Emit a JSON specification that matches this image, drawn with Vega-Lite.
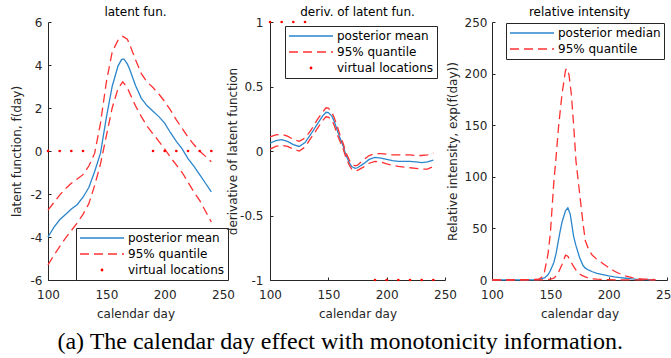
{
  "$schema": "https://vega.github.io/schema/vega-lite/v6.json",
  "padding": {"left": 10, "top": 6, "right": 0, "bottom": 0},
  "background": "white",
  "bounds": "flush",
  "spacing": 47,
  "title": {"text": "(a) The calendar day effect with monotonicity information.", "orient": "bottom", "font": "Liberation Serif", "fontSize": 24, "fontWeight": "normal", "color": "black", "anchor": "middle", "offset": 11, "dx": -4},
  "config": {
    "font": "DejaVu Sans",
    "view": {"stroke": null},
    "axis": {"grid": false, "labelFlush": false, "labelOverlap": false, "domainColor": "#262626", "domainWidth": 1, "tickColor": "#262626", "tickSize": -3, "labelColor": "#262626", "titleColor": "#262626", "labelFont": "DejaVu Sans", "titleFont": "DejaVu Sans", "labelFontSize": 12, "titleFontSize": 12, "titleFontWeight": "normal"},
    "legend": {"labelFont": "DejaVu Sans", "labelFontSize": 12, "labelColor": "black", "title": null, "orient": "none", "strokeColor": "#262626", "fillColor": "white", "padding": 3, "symbolSize": 1936, "symbolStrokeWidth": 1.3, "labelOffset": 3, "rowPadding": 2, "clipHeight": 14}
  },
  "datasets": {
    "p1": [
      {"day":100,"value":-4.0,"series":"posterior mean","line":"mean"},
      {"day":105,"value":-3.55,"series":"posterior mean","line":"mean"},
      {"day":110,"value":-3.2,"series":"posterior mean","line":"mean"},
      {"day":115,"value":-2.95,"series":"posterior mean","line":"mean"},
      {"day":120,"value":-2.7,"series":"posterior mean","line":"mean"},
      {"day":125,"value":-2.5,"series":"posterior mean","line":"mean"},
      {"day":130,"value":-2.15,"series":"posterior mean","line":"mean"},
      {"day":135,"value":-1.7,"series":"posterior mean","line":"mean"},
      {"day":140,"value":-0.95,"series":"posterior mean","line":"mean"},
      {"day":145,"value":-0.1,"series":"posterior mean","line":"mean"},
      {"day":150,"value":1.55,"series":"posterior mean","line":"mean"},
      {"day":155,"value":3.0,"series":"posterior mean","line":"mean"},
      {"day":160,"value":3.95,"series":"posterior mean","line":"mean"},
      {"day":163,"value":4.25,"series":"posterior mean","line":"mean"},
      {"day":165,"value":4.28,"series":"posterior mean","line":"mean"},
      {"day":168,"value":4.05,"series":"posterior mean","line":"mean"},
      {"day":170,"value":3.8,"series":"posterior mean","line":"mean"},
      {"day":175,"value":3.05,"series":"posterior mean","line":"mean"},
      {"day":180,"value":2.45,"series":"posterior mean","line":"mean"},
      {"day":185,"value":2.1,"series":"posterior mean","line":"mean"},
      {"day":190,"value":1.85,"series":"posterior mean","line":"mean"},
      {"day":195,"value":1.6,"series":"posterior mean","line":"mean"},
      {"day":200,"value":1.3,"series":"posterior mean","line":"mean"},
      {"day":205,"value":0.85,"series":"posterior mean","line":"mean"},
      {"day":210,"value":0.45,"series":"posterior mean","line":"mean"},
      {"day":215,"value":0.1,"series":"posterior mean","line":"mean"},
      {"day":220,"value":-0.35,"series":"posterior mean","line":"mean"},
      {"day":225,"value":-0.7,"series":"posterior mean","line":"mean"},
      {"day":230,"value":-1.1,"series":"posterior mean","line":"mean"},
      {"day":235,"value":-1.5,"series":"posterior mean","line":"mean"},
      {"day":240,"value":-1.9,"series":"posterior mean","line":"mean"}
    ],
    "q1": [
      {"day":100,"value":-2.75,"series":"95% quantile","line":"upper"},
      {"day":105,"value":-2.4,"series":"95% quantile","line":"upper"},
      {"day":110,"value":-2.05,"series":"95% quantile","line":"upper"},
      {"day":115,"value":-1.75,"series":"95% quantile","line":"upper"},
      {"day":120,"value":-1.5,"series":"95% quantile","line":"upper"},
      {"day":125,"value":-1.3,"series":"95% quantile","line":"upper"},
      {"day":130,"value":-1.1,"series":"95% quantile","line":"upper"},
      {"day":135,"value":-0.7,"series":"95% quantile","line":"upper"},
      {"day":140,"value":-0.1,"series":"95% quantile","line":"upper"},
      {"day":145,"value":1.3,"series":"95% quantile","line":"upper"},
      {"day":150,"value":3.2,"series":"95% quantile","line":"upper"},
      {"day":155,"value":4.6,"series":"95% quantile","line":"upper"},
      {"day":160,"value":5.15,"series":"95% quantile","line":"upper"},
      {"day":164,"value":5.33,"series":"95% quantile","line":"upper"},
      {"day":168,"value":5.2,"series":"95% quantile","line":"upper"},
      {"day":170,"value":4.95,"series":"95% quantile","line":"upper"},
      {"day":175,"value":4.25,"series":"95% quantile","line":"upper"},
      {"day":180,"value":3.6,"series":"95% quantile","line":"upper"},
      {"day":185,"value":3.2,"series":"95% quantile","line":"upper"},
      {"day":190,"value":2.95,"series":"95% quantile","line":"upper"},
      {"day":195,"value":2.65,"series":"95% quantile","line":"upper"},
      {"day":200,"value":2.3,"series":"95% quantile","line":"upper"},
      {"day":205,"value":1.9,"series":"95% quantile","line":"upper"},
      {"day":210,"value":1.45,"series":"95% quantile","line":"upper"},
      {"day":215,"value":1.05,"series":"95% quantile","line":"upper"},
      {"day":220,"value":0.65,"series":"95% quantile","line":"upper"},
      {"day":225,"value":0.3,"series":"95% quantile","line":"upper"},
      {"day":230,"value":0.0,"series":"95% quantile","line":"upper"},
      {"day":235,"value":-0.25,"series":"95% quantile","line":"upper"},
      {"day":240,"value":-0.5,"series":"95% quantile","line":"upper"},
      {"day":100,"value":-5.3,"series":"95% quantile","line":"lower"},
      {"day":105,"value":-4.85,"series":"95% quantile","line":"lower"},
      {"day":110,"value":-4.45,"series":"95% quantile","line":"lower"},
      {"day":115,"value":-4.05,"series":"95% quantile","line":"lower"},
      {"day":120,"value":-3.7,"series":"95% quantile","line":"lower"},
      {"day":125,"value":-3.35,"series":"95% quantile","line":"lower"},
      {"day":130,"value":-2.95,"series":"95% quantile","line":"lower"},
      {"day":135,"value":-2.45,"series":"95% quantile","line":"lower"},
      {"day":140,"value":-1.6,"series":"95% quantile","line":"lower"},
      {"day":145,"value":-0.6,"series":"95% quantile","line":"lower"},
      {"day":150,"value":0.7,"series":"95% quantile","line":"lower"},
      {"day":155,"value":2.0,"series":"95% quantile","line":"lower"},
      {"day":160,"value":2.9,"series":"95% quantile","line":"lower"},
      {"day":164,"value":3.22,"series":"95% quantile","line":"lower"},
      {"day":168,"value":2.95,"series":"95% quantile","line":"lower"},
      {"day":170,"value":2.7,"series":"95% quantile","line":"lower"},
      {"day":175,"value":2.1,"series":"95% quantile","line":"lower"},
      {"day":180,"value":1.6,"series":"95% quantile","line":"lower"},
      {"day":185,"value":1.15,"series":"95% quantile","line":"lower"},
      {"day":190,"value":0.8,"series":"95% quantile","line":"lower"},
      {"day":195,"value":0.45,"series":"95% quantile","line":"lower"},
      {"day":200,"value":0.1,"series":"95% quantile","line":"lower"},
      {"day":205,"value":-0.3,"series":"95% quantile","line":"lower"},
      {"day":210,"value":-0.65,"series":"95% quantile","line":"lower"},
      {"day":215,"value":-1.0,"series":"95% quantile","line":"lower"},
      {"day":220,"value":-1.45,"series":"95% quantile","line":"lower"},
      {"day":225,"value":-1.9,"series":"95% quantile","line":"lower"},
      {"day":230,"value":-2.3,"series":"95% quantile","line":"lower"},
      {"day":235,"value":-2.8,"series":"95% quantile","line":"lower"},
      {"day":240,"value":-3.3,"series":"95% quantile","line":"lower"}
    ],
    "v1": [
      {"day":100,"value":0,"series":"virtual locations"},
      {"day":110,"value":0,"series":"virtual locations"},
      {"day":120,"value":0,"series":"virtual locations"},
      {"day":130,"value":0,"series":"virtual locations"},
      {"day":190,"value":0,"series":"virtual locations"},
      {"day":200,"value":0,"series":"virtual locations"},
      {"day":210,"value":0,"series":"virtual locations"},
      {"day":220,"value":0,"series":"virtual locations"},
      {"day":230,"value":0,"series":"virtual locations"},
      {"day":240,"value":0,"series":"virtual locations"}
    ],
    "p2": [
      {"day":100,"value":0.06,"series":"posterior mean","line":"mean"},
      {"day":105,"value":0.08,"series":"posterior mean","line":"mean"},
      {"day":110,"value":0.088,"series":"posterior mean","line":"mean"},
      {"day":115,"value":0.075,"series":"posterior mean","line":"mean"},
      {"day":120,"value":0.05,"series":"posterior mean","line":"mean"},
      {"day":125,"value":0.035,"series":"posterior mean","line":"mean"},
      {"day":130,"value":0.065,"series":"posterior mean","line":"mean"},
      {"day":135,"value":0.13,"series":"posterior mean","line":"mean"},
      {"day":140,"value":0.2,"series":"posterior mean","line":"mean"},
      {"day":145,"value":0.27,"series":"posterior mean","line":"mean"},
      {"day":148,"value":0.3,"series":"posterior mean","line":"mean"},
      {"day":150,"value":0.298,"series":"posterior mean","line":"mean"},
      {"day":153,"value":0.27,"series":"posterior mean","line":"mean"},
      {"day":155,"value":0.23,"series":"posterior mean","line":"mean"},
      {"day":158,"value":0.15,"series":"posterior mean","line":"mean"},
      {"day":160,"value":0.1,"series":"posterior mean","line":"mean"},
      {"day":163,"value":0.03,"series":"posterior mean","line":"mean"},
      {"day":165,"value":-0.03,"series":"posterior mean","line":"mean"},
      {"day":168,"value":-0.09,"series":"posterior mean","line":"mean"},
      {"day":170,"value":-0.12,"series":"posterior mean","line":"mean"},
      {"day":173,"value":-0.135,"series":"posterior mean","line":"mean"},
      {"day":175,"value":-0.13,"series":"posterior mean","line":"mean"},
      {"day":180,"value":-0.1,"series":"posterior mean","line":"mean"},
      {"day":185,"value":-0.065,"series":"posterior mean","line":"mean"},
      {"day":190,"value":-0.05,"series":"posterior mean","line":"mean"},
      {"day":195,"value":-0.055,"series":"posterior mean","line":"mean"},
      {"day":200,"value":-0.065,"series":"posterior mean","line":"mean"},
      {"day":205,"value":-0.075,"series":"posterior mean","line":"mean"},
      {"day":210,"value":-0.08,"series":"posterior mean","line":"mean"},
      {"day":215,"value":-0.08,"series":"posterior mean","line":"mean"},
      {"day":220,"value":-0.08,"series":"posterior mean","line":"mean"},
      {"day":225,"value":-0.085,"series":"posterior mean","line":"mean"},
      {"day":230,"value":-0.09,"series":"posterior mean","line":"mean"},
      {"day":235,"value":-0.085,"series":"posterior mean","line":"mean"},
      {"day":240,"value":-0.07,"series":"posterior mean","line":"mean"}
    ],
    "q2": [
      {"day":100,"value":0.11,"series":"95% quantile","line":"upper"},
      {"day":105,"value":0.125,"series":"95% quantile","line":"upper"},
      {"day":110,"value":0.13,"series":"95% quantile","line":"upper"},
      {"day":115,"value":0.115,"series":"95% quantile","line":"upper"},
      {"day":120,"value":0.09,"series":"95% quantile","line":"upper"},
      {"day":125,"value":0.075,"series":"95% quantile","line":"upper"},
      {"day":130,"value":0.1,"series":"95% quantile","line":"upper"},
      {"day":135,"value":0.16,"series":"95% quantile","line":"upper"},
      {"day":140,"value":0.235,"series":"95% quantile","line":"upper"},
      {"day":145,"value":0.3,"series":"95% quantile","line":"upper"},
      {"day":148,"value":0.335,"series":"95% quantile","line":"upper"},
      {"day":150,"value":0.333,"series":"95% quantile","line":"upper"},
      {"day":153,"value":0.3,"series":"95% quantile","line":"upper"},
      {"day":155,"value":0.26,"series":"95% quantile","line":"upper"},
      {"day":158,"value":0.18,"series":"95% quantile","line":"upper"},
      {"day":160,"value":0.125,"series":"95% quantile","line":"upper"},
      {"day":163,"value":0.05,"series":"95% quantile","line":"upper"},
      {"day":165,"value":-0.01,"series":"95% quantile","line":"upper"},
      {"day":168,"value":-0.07,"series":"95% quantile","line":"upper"},
      {"day":170,"value":-0.1,"series":"95% quantile","line":"upper"},
      {"day":173,"value":-0.115,"series":"95% quantile","line":"upper"},
      {"day":175,"value":-0.11,"series":"95% quantile","line":"upper"},
      {"day":180,"value":-0.07,"series":"95% quantile","line":"upper"},
      {"day":185,"value":-0.035,"series":"95% quantile","line":"upper"},
      {"day":190,"value":-0.02,"series":"95% quantile","line":"upper"},
      {"day":195,"value":-0.02,"series":"95% quantile","line":"upper"},
      {"day":200,"value":-0.025,"series":"95% quantile","line":"upper"},
      {"day":205,"value":-0.03,"series":"95% quantile","line":"upper"},
      {"day":210,"value":-0.03,"series":"95% quantile","line":"upper"},
      {"day":215,"value":-0.03,"series":"95% quantile","line":"upper"},
      {"day":220,"value":-0.03,"series":"95% quantile","line":"upper"},
      {"day":225,"value":-0.035,"series":"95% quantile","line":"upper"},
      {"day":230,"value":-0.035,"series":"95% quantile","line":"upper"},
      {"day":235,"value":-0.03,"series":"95% quantile","line":"upper"},
      {"day":240,"value":-0.015,"series":"95% quantile","line":"upper"},
      {"day":100,"value":0.015,"series":"95% quantile","line":"lower"},
      {"day":105,"value":0.035,"series":"95% quantile","line":"lower"},
      {"day":110,"value":0.045,"series":"95% quantile","line":"lower"},
      {"day":115,"value":0.035,"series":"95% quantile","line":"lower"},
      {"day":120,"value":0.015,"series":"95% quantile","line":"lower"},
      {"day":125,"value":0.0,"series":"95% quantile","line":"lower"},
      {"day":130,"value":0.03,"series":"95% quantile","line":"lower"},
      {"day":135,"value":0.1,"series":"95% quantile","line":"lower"},
      {"day":140,"value":0.165,"series":"95% quantile","line":"lower"},
      {"day":145,"value":0.235,"series":"95% quantile","line":"lower"},
      {"day":148,"value":0.265,"series":"95% quantile","line":"lower"},
      {"day":150,"value":0.262,"series":"95% quantile","line":"lower"},
      {"day":153,"value":0.24,"series":"95% quantile","line":"lower"},
      {"day":155,"value":0.2,"series":"95% quantile","line":"lower"},
      {"day":158,"value":0.12,"series":"95% quantile","line":"lower"},
      {"day":160,"value":0.075,"series":"95% quantile","line":"lower"},
      {"day":163,"value":0.01,"series":"95% quantile","line":"lower"},
      {"day":165,"value":-0.05,"series":"95% quantile","line":"lower"},
      {"day":168,"value":-0.11,"series":"95% quantile","line":"lower"},
      {"day":170,"value":-0.14,"series":"95% quantile","line":"lower"},
      {"day":173,"value":-0.155,"series":"95% quantile","line":"lower"},
      {"day":175,"value":-0.15,"series":"95% quantile","line":"lower"},
      {"day":180,"value":-0.125,"series":"95% quantile","line":"lower"},
      {"day":185,"value":-0.095,"series":"95% quantile","line":"lower"},
      {"day":190,"value":-0.08,"series":"95% quantile","line":"lower"},
      {"day":195,"value":-0.085,"series":"95% quantile","line":"lower"},
      {"day":200,"value":-0.1,"series":"95% quantile","line":"lower"},
      {"day":205,"value":-0.11,"series":"95% quantile","line":"lower"},
      {"day":210,"value":-0.12,"series":"95% quantile","line":"lower"},
      {"day":215,"value":-0.125,"series":"95% quantile","line":"lower"},
      {"day":220,"value":-0.13,"series":"95% quantile","line":"lower"},
      {"day":225,"value":-0.135,"series":"95% quantile","line":"lower"},
      {"day":230,"value":-0.14,"series":"95% quantile","line":"lower"},
      {"day":235,"value":-0.14,"series":"95% quantile","line":"lower"},
      {"day":240,"value":-0.12,"series":"95% quantile","line":"lower"}
    ],
    "v2": [
      {"day":100,"value":1,"series":"virtual locations"},
      {"day":110,"value":1,"series":"virtual locations"},
      {"day":120,"value":1,"series":"virtual locations"},
      {"day":130,"value":1,"series":"virtual locations"},
      {"day":190,"value":-1,"series":"virtual locations"},
      {"day":200,"value":-1,"series":"virtual locations"},
      {"day":210,"value":-1,"series":"virtual locations"},
      {"day":220,"value":-1,"series":"virtual locations"},
      {"day":230,"value":-1,"series":"virtual locations"},
      {"day":240,"value":-1,"series":"virtual locations"}
    ],
    "p3": [
      {"day":100,"value":0.02,"series":"posterior median","line":"median"},
      {"day":110,"value":0.04,"series":"posterior median","line":"median"},
      {"day":120,"value":0.07,"series":"posterior median","line":"median"},
      {"day":130,"value":0.12,"series":"posterior median","line":"median"},
      {"day":135,"value":0.18,"series":"posterior median","line":"median"},
      {"day":140,"value":0.4,"series":"posterior median","line":"median"},
      {"day":145,"value":2,"series":"posterior median","line":"median"},
      {"day":148,"value":5,"series":"posterior median","line":"median"},
      {"day":150,"value":9,"series":"posterior median","line":"median"},
      {"day":153,"value":17,"series":"posterior median","line":"median"},
      {"day":155,"value":26,"series":"posterior median","line":"median"},
      {"day":158,"value":45,"series":"posterior median","line":"median"},
      {"day":160,"value":56,"series":"posterior median","line":"median"},
      {"day":163,"value":67,"series":"posterior median","line":"median"},
      {"day":165,"value":70,"series":"posterior median","line":"median"},
      {"day":167,"value":64,"series":"posterior median","line":"median"},
      {"day":170,"value":42,"series":"posterior median","line":"median"},
      {"day":172,"value":33,"series":"posterior median","line":"median"},
      {"day":175,"value":22,"series":"posterior median","line":"median"},
      {"day":178,"value":14,"series":"posterior median","line":"median"},
      {"day":180,"value":11.5,"series":"posterior median","line":"median"},
      {"day":183,"value":9.5,"series":"posterior median","line":"median"},
      {"day":186,"value":8,"series":"posterior median","line":"median"},
      {"day":190,"value":6.5,"series":"posterior median","line":"median"},
      {"day":195,"value":5.2,"series":"posterior median","line":"median"},
      {"day":200,"value":4,"series":"posterior median","line":"median"},
      {"day":205,"value":3,"series":"posterior median","line":"median"},
      {"day":210,"value":2.4,"series":"posterior median","line":"median"},
      {"day":215,"value":1.7,"series":"posterior median","line":"median"},
      {"day":220,"value":1.0,"series":"posterior median","line":"median"},
      {"day":225,"value":0.7,"series":"posterior median","line":"median"},
      {"day":230,"value":0.45,"series":"posterior median","line":"median"},
      {"day":240,"value":0.2,"series":"posterior median","line":"median"}
    ],
    "q3": [
      {"day":100,"value":0.1,"series":"95% quantile","line":"upper"},
      {"day":110,"value":0.15,"series":"95% quantile","line":"upper"},
      {"day":120,"value":0.25,"series":"95% quantile","line":"upper"},
      {"day":130,"value":0.35,"series":"95% quantile","line":"upper"},
      {"day":135,"value":0.5,"series":"95% quantile","line":"upper"},
      {"day":140,"value":0.8,"series":"95% quantile","line":"upper"},
      {"day":143,"value":3,"series":"95% quantile","line":"upper"},
      {"day":145,"value":8,"series":"95% quantile","line":"upper"},
      {"day":148,"value":25,"series":"95% quantile","line":"upper"},
      {"day":150,"value":45,"series":"95% quantile","line":"upper"},
      {"day":153,"value":95,"series":"95% quantile","line":"upper"},
      {"day":155,"value":120,"series":"95% quantile","line":"upper"},
      {"day":157,"value":148,"series":"95% quantile","line":"upper"},
      {"day":160,"value":180,"series":"95% quantile","line":"upper"},
      {"day":163,"value":203,"series":"95% quantile","line":"upper"},
      {"day":164,"value":205,"series":"95% quantile","line":"upper"},
      {"day":166,"value":199,"series":"95% quantile","line":"upper"},
      {"day":168,"value":180,"series":"95% quantile","line":"upper"},
      {"day":170,"value":150,"series":"95% quantile","line":"upper"},
      {"day":172,"value":115,"series":"95% quantile","line":"upper"},
      {"day":175,"value":85,"series":"95% quantile","line":"upper"},
      {"day":178,"value":55,"series":"95% quantile","line":"upper"},
      {"day":180,"value":38,"series":"95% quantile","line":"upper"},
      {"day":183,"value":29,"series":"95% quantile","line":"upper"},
      {"day":186,"value":24,"series":"95% quantile","line":"upper"},
      {"day":190,"value":20,"series":"95% quantile","line":"upper"},
      {"day":195,"value":16,"series":"95% quantile","line":"upper"},
      {"day":200,"value":12,"series":"95% quantile","line":"upper"},
      {"day":205,"value":8.5,"series":"95% quantile","line":"upper"},
      {"day":210,"value":5.8,"series":"95% quantile","line":"upper"},
      {"day":215,"value":3.7,"series":"95% quantile","line":"upper"},
      {"day":220,"value":2.3,"series":"95% quantile","line":"upper"},
      {"day":225,"value":1.4,"series":"95% quantile","line":"upper"},
      {"day":230,"value":0.9,"series":"95% quantile","line":"upper"},
      {"day":240,"value":0.4,"series":"95% quantile","line":"upper"},
      {"day":100,"value":0.0,"series":"95% quantile","line":"lower"},
      {"day":120,"value":0.0,"series":"95% quantile","line":"lower"},
      {"day":140,"value":0.05,"series":"95% quantile","line":"lower"},
      {"day":145,"value":0.2,"series":"95% quantile","line":"lower"},
      {"day":150,"value":0.8,"series":"95% quantile","line":"lower"},
      {"day":153,"value":1.8,"series":"95% quantile","line":"lower"},
      {"day":155,"value":4,"series":"95% quantile","line":"lower"},
      {"day":157,"value":7.5,"series":"95% quantile","line":"lower"},
      {"day":160,"value":15,"series":"95% quantile","line":"lower"},
      {"day":163,"value":24,"series":"95% quantile","line":"lower"},
      {"day":165,"value":23,"series":"95% quantile","line":"lower"},
      {"day":168,"value":17,"series":"95% quantile","line":"lower"},
      {"day":170,"value":13,"series":"95% quantile","line":"lower"},
      {"day":173,"value":8,"series":"95% quantile","line":"lower"},
      {"day":175,"value":6,"series":"95% quantile","line":"lower"},
      {"day":177,"value":4.5,"series":"95% quantile","line":"lower"},
      {"day":180,"value":3,"series":"95% quantile","line":"lower"},
      {"day":183,"value":1.8,"series":"95% quantile","line":"lower"},
      {"day":186,"value":1.2,"series":"95% quantile","line":"lower"},
      {"day":190,"value":0.8,"series":"95% quantile","line":"lower"},
      {"day":195,"value":0.5,"series":"95% quantile","line":"lower"},
      {"day":200,"value":0.3,"series":"95% quantile","line":"lower"},
      {"day":210,"value":0.15,"series":"95% quantile","line":"lower"},
      {"day":220,"value":0.05,"series":"95% quantile","line":"lower"},
      {"day":240,"value":0.02,"series":"95% quantile","line":"lower"}
    ]
  },
  "resolve": {"scale": {"color": "independent", "x": "independent", "y": "independent"}, "legend": {"color": "independent"}},
  "hconcat": [
    {
      "width": 175, "height": 258,
      "title": {"text": "latent fun.", "fontSize": 12, "fontWeight": "normal", "font": "DejaVu Sans", "color": "black", "offset": 5, "dy": 17, "baseline": "alphabetic", "frame": "group"},
      "encoding": {
        "x": {"field": "day", "type": "quantitative", "scale": {"domain": [100, 250], "nice": false, "zero": false},
              "axis": {"values": [100, 150, 200, 250], "title": "calendar day", "labelPadding": 12, "titleY": 37, "titleBaseline": "alphabetic"}},
        "y": {"field": "value", "type": "quantitative", "scale": {"domain": [-6, 6], "nice": false, "zero": false},
              "axis": {"values": [-6, -4, -2, 0, 2, 4, 6], "labelExpr": "'' + datum.value", "title": "latent function, f(day)", "labelPadding": 9, "titleX": -32, "titleBaseline": "middle"}},
        "color": {"field": "series", "type": "nominal",
                  "scale": {"domain": ["posterior mean", "95% quantile", "virtual locations"], "range": ["#2a86cc", "#ff3030", "#ff0000"]},
                  "legend": {"legendX": 28, "legendY": 206, "symbolSize": 1936,
                    "encode": {"symbols": {
                      "enter": {"size": {"value": 1936}, "strokeWidth": {"value": 1.3}},
                      "update": {
                      "size": {"value": 1936},
                      "shape": {"signal": "(datum.value === 'virtual locations' ? 'M-0.065,0A0.065,0.065,0,1,1,0.065,0A0.065,0.065,0,1,1,-0.065,0Z' : 'stroke')"},
                      "strokeDash": {"signal": "(datum.value === '95% quantile' ? [9,5] : [1,0])"},
                      "fill": {"signal": "(datum.value === 'virtual locations' ? '#ff0000' : 'transparent')"},
                      "strokeWidth": {"signal": "(datum.value === 'virtual locations' ? 0 : 1.3)"},
                      "opacity": {"value": 1}
                    }}}}}
      },
      "layer": [
        {"data": {"name": "p1"}, "mark": {"type": "line", "strokeWidth": 1.3}, "encoding": {"detail": {"field": "line"}}},
        {"data": {"name": "q1"}, "mark": {"type": "line", "strokeWidth": 1.3, "strokeDash": [9, 5]}, "encoding": {"detail": {"field": "line"}}},
        {"data": {"name": "v1"}, "mark": {"type": "circle", "size": 7, "opacity": 1}, "encoding": {}}
      ]
    },
    {
      "width": 175, "height": 258,
      "title": {"text": "deriv. of latent fun.", "fontSize": 12, "fontWeight": "normal", "font": "DejaVu Sans", "color": "black", "offset": 5, "dy": 17, "baseline": "alphabetic", "frame": "group"},
      "encoding": {
        "x": {"field": "day", "type": "quantitative", "scale": {"domain": [100, 250], "nice": false, "zero": false},
              "axis": {"values": [100, 150, 200, 250], "title": "calendar day", "labelPadding": 12, "titleY": 37, "titleBaseline": "alphabetic"}},
        "y": {"field": "value", "type": "quantitative", "scale": {"domain": [-1, 1], "nice": false, "zero": false},
              "axis": {"values": [-1, -0.5, 0, 0.5, 1], "labelExpr": "'' + datum.value", "title": "derivative of latent function", "labelPadding": 10, "titleX": -38, "titleBaseline": "middle"}},
        "color": {"field": "series", "type": "nominal",
                  "scale": {"domain": ["posterior mean", "95% quantile", "virtual locations"], "range": ["#2a86cc", "#ff3030", "#ff0000"]},
                  "legend": {"legendX": 15, "legendY": 4, "symbolSize": 1936,
                    "encode": {"symbols": {
                      "enter": {"size": {"value": 1936}, "strokeWidth": {"value": 1.3}},
                      "update": {
                      "size": {"value": 1936},
                      "shape": {"signal": "(datum.value === 'virtual locations' ? 'M-0.065,0A0.065,0.065,0,1,1,0.065,0A0.065,0.065,0,1,1,-0.065,0Z' : 'stroke')"},
                      "strokeDash": {"signal": "(datum.value === '95% quantile' ? [9,5] : [1,0])"},
                      "fill": {"signal": "(datum.value === 'virtual locations' ? '#ff0000' : 'transparent')"},
                      "strokeWidth": {"signal": "(datum.value === 'virtual locations' ? 0 : 1.3)"},
                      "opacity": {"value": 1}
                    }}}}}
      },
      "layer": [
        {"data": {"name": "p2"}, "mark": {"type": "line", "strokeWidth": 1.3}, "encoding": {"detail": {"field": "line"}}},
        {"data": {"name": "q2"}, "mark": {"type": "line", "strokeWidth": 1.3, "strokeDash": [9, 5]}, "encoding": {"detail": {"field": "line"}}},
        {"data": {"name": "v2"}, "mark": {"type": "circle", "size": 7, "opacity": 1}, "encoding": {}}
      ]
    },
    {
      "width": 175, "height": 258,
      "title": {"text": "relative intensity", "fontSize": 12, "fontWeight": "normal", "font": "DejaVu Sans", "color": "black", "offset": 5, "dy": 17, "baseline": "alphabetic", "frame": "group"},
      "encoding": {
        "x": {"field": "day", "type": "quantitative", "scale": {"domain": [100, 250], "nice": false, "zero": false},
              "axis": {"values": [100, 150, 200, 250], "title": "calendar day", "labelPadding": 12, "titleY": 37, "titleBaseline": "alphabetic"}},
        "y": {"field": "value", "type": "quantitative", "scale": {"domain": [0, 250], "nice": false, "zero": false},
              "axis": {"values": [0, 50, 100, 150, 200, 250], "labelExpr": "'' + datum.value", "title": "Relative intensity, exp(f(day))", "labelPadding": 8, "titleX": -40, "titleBaseline": "middle"}},
        "color": {"field": "series", "type": "nominal",
                  "scale": {"domain": ["posterior median", "95% quantile"], "range": ["#2a86cc", "#ff3030"]},
                  "legend": {"legendX": 14, "legendY": 1,
                    "encode": {"symbols": {"update": {
                      "size": {"value": 1936},
                      "shape": {"value": "stroke"},
                      "strokeDash": {"signal": "(datum.value === '95% quantile' ? [9,5] : [1,0])"},
                      "fill": {"value": "transparent"},
                      "strokeWidth": {"value": 1.3},
                      "opacity": {"value": 1}
                    }}}}}
      },
      "layer": [
        {"data": {"name": "p3"}, "mark": {"type": "line", "strokeWidth": 1.3}, "encoding": {"detail": {"field": "line"}}},
        {"data": {"name": "q3"}, "mark": {"type": "line", "strokeWidth": 1.3, "strokeDash": [9, 5]}, "encoding": {"detail": {"field": "line"}}}
      ]
    }
  ]
}
